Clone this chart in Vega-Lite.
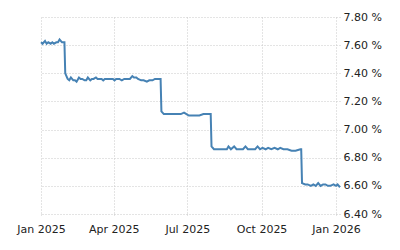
{
  "$schema": "https://vega.github.io/schema/vega-lite/v6.json",
  "width": 299,
  "height": 197,
  "autosize": "none",
  "padding": {"left": 41, "top": 17, "right": 60, "bottom": 36},
  "background": "white",
  "config": {"view": {"stroke": null}},
  "data": {"values": [
    {"date": "2025-01-01", "rate": 7.62},
    {"date": "2025-01-03", "rate": 7.61},
    {"date": "2025-01-06", "rate": 7.63},
    {"date": "2025-01-08", "rate": 7.61},
    {"date": "2025-01-10", "rate": 7.62},
    {"date": "2025-01-13", "rate": 7.61},
    {"date": "2025-01-15", "rate": 7.62},
    {"date": "2025-01-17", "rate": 7.61},
    {"date": "2025-01-20", "rate": 7.62},
    {"date": "2025-01-22", "rate": 7.62},
    {"date": "2025-01-24", "rate": 7.64},
    {"date": "2025-01-27", "rate": 7.62},
    {"date": "2025-01-30", "rate": 7.62},
    {"date": "2025-01-31", "rate": 7.40},
    {"date": "2025-02-03", "rate": 7.36},
    {"date": "2025-02-05", "rate": 7.35},
    {"date": "2025-02-07", "rate": 7.37},
    {"date": "2025-02-10", "rate": 7.35},
    {"date": "2025-02-12", "rate": 7.35},
    {"date": "2025-02-14", "rate": 7.34},
    {"date": "2025-02-17", "rate": 7.37},
    {"date": "2025-02-19", "rate": 7.36},
    {"date": "2025-02-21", "rate": 7.36},
    {"date": "2025-02-24", "rate": 7.35},
    {"date": "2025-02-26", "rate": 7.35},
    {"date": "2025-02-28", "rate": 7.37},
    {"date": "2025-03-03", "rate": 7.35},
    {"date": "2025-03-05", "rate": 7.36},
    {"date": "2025-03-07", "rate": 7.36},
    {"date": "2025-03-10", "rate": 7.37},
    {"date": "2025-03-12", "rate": 7.36},
    {"date": "2025-03-14", "rate": 7.36},
    {"date": "2025-03-17", "rate": 7.36},
    {"date": "2025-03-19", "rate": 7.35},
    {"date": "2025-03-21", "rate": 7.36},
    {"date": "2025-03-24", "rate": 7.36},
    {"date": "2025-03-27", "rate": 7.36},
    {"date": "2025-03-31", "rate": 7.36},
    {"date": "2025-04-02", "rate": 7.35},
    {"date": "2025-04-04", "rate": 7.36},
    {"date": "2025-04-08", "rate": 7.36},
    {"date": "2025-04-11", "rate": 7.35},
    {"date": "2025-04-14", "rate": 7.36},
    {"date": "2025-04-17", "rate": 7.36},
    {"date": "2025-04-21", "rate": 7.36},
    {"date": "2025-04-24", "rate": 7.38},
    {"date": "2025-04-26", "rate": 7.37},
    {"date": "2025-04-29", "rate": 7.37},
    {"date": "2025-05-01", "rate": 7.36},
    {"date": "2025-05-05", "rate": 7.35},
    {"date": "2025-05-08", "rate": 7.35},
    {"date": "2025-05-12", "rate": 7.34},
    {"date": "2025-05-15", "rate": 7.35},
    {"date": "2025-05-19", "rate": 7.35},
    {"date": "2025-05-22", "rate": 7.36},
    {"date": "2025-05-26", "rate": 7.36},
    {"date": "2025-05-29", "rate": 7.36},
    {"date": "2025-05-30", "rate": 7.13},
    {"date": "2025-06-02", "rate": 7.11},
    {"date": "2025-06-05", "rate": 7.11},
    {"date": "2025-06-09", "rate": 7.11},
    {"date": "2025-06-12", "rate": 7.11},
    {"date": "2025-06-16", "rate": 7.11},
    {"date": "2025-06-19", "rate": 7.11},
    {"date": "2025-06-23", "rate": 7.11},
    {"date": "2025-06-27", "rate": 7.12},
    {"date": "2025-06-30", "rate": 7.11},
    {"date": "2025-07-03", "rate": 7.10},
    {"date": "2025-07-08", "rate": 7.10},
    {"date": "2025-07-12", "rate": 7.10},
    {"date": "2025-07-16", "rate": 7.10},
    {"date": "2025-07-21", "rate": 7.11},
    {"date": "2025-07-25", "rate": 7.11},
    {"date": "2025-07-30", "rate": 7.11},
    {"date": "2025-07-31", "rate": 6.88},
    {"date": "2025-08-03", "rate": 6.86},
    {"date": "2025-08-07", "rate": 6.86},
    {"date": "2025-08-11", "rate": 6.86},
    {"date": "2025-08-15", "rate": 6.86},
    {"date": "2025-08-19", "rate": 6.86},
    {"date": "2025-08-21", "rate": 6.88},
    {"date": "2025-08-24", "rate": 6.86},
    {"date": "2025-08-28", "rate": 6.88},
    {"date": "2025-08-31", "rate": 6.86},
    {"date": "2025-09-04", "rate": 6.86},
    {"date": "2025-09-08", "rate": 6.86},
    {"date": "2025-09-11", "rate": 6.88},
    {"date": "2025-09-14", "rate": 6.86},
    {"date": "2025-09-18", "rate": 6.86},
    {"date": "2025-09-23", "rate": 6.86},
    {"date": "2025-09-26", "rate": 6.88},
    {"date": "2025-09-29", "rate": 6.86},
    {"date": "2025-10-02", "rate": 6.87},
    {"date": "2025-10-06", "rate": 6.86},
    {"date": "2025-10-09", "rate": 6.87},
    {"date": "2025-10-13", "rate": 6.86},
    {"date": "2025-10-17", "rate": 6.87},
    {"date": "2025-10-21", "rate": 6.86},
    {"date": "2025-10-24", "rate": 6.87},
    {"date": "2025-10-28", "rate": 6.86},
    {"date": "2025-11-02", "rate": 6.86},
    {"date": "2025-11-07", "rate": 6.85},
    {"date": "2025-11-12", "rate": 6.85},
    {"date": "2025-11-18", "rate": 6.86},
    {"date": "2025-11-19", "rate": 6.86},
    {"date": "2025-11-20", "rate": 6.62},
    {"date": "2025-11-24", "rate": 6.61},
    {"date": "2025-11-27", "rate": 6.61},
    {"date": "2025-12-01", "rate": 6.60},
    {"date": "2025-12-04", "rate": 6.61},
    {"date": "2025-12-07", "rate": 6.60},
    {"date": "2025-12-10", "rate": 6.62},
    {"date": "2025-12-13", "rate": 6.60},
    {"date": "2025-12-16", "rate": 6.61},
    {"date": "2025-12-19", "rate": 6.61},
    {"date": "2025-12-22", "rate": 6.60},
    {"date": "2025-12-25", "rate": 6.60},
    {"date": "2025-12-29", "rate": 6.61},
    {"date": "2026-01-01", "rate": 6.60},
    {"date": "2026-01-03", "rate": 6.61},
    {"date": "2026-01-06", "rate": 6.59}
  ]},
  "mark": {"type": "line", "color": "#4682B4", "strokeWidth": 2, "interpolate": "linear"},
  "encoding": {
    "x": {
      "field": "date", "type": "temporal",
      "scale": {"domain": ["2025-01-01", "2026-01-06"]},
      "axis": {
        "title": null,
        "values": ["2025-01-01", "2025-04-01", "2025-07-01", "2025-10-01", "2026-01-01"],
        "format": "%b %Y",
        "domain": false,
        "grid": true, "gridColor": "#c8c8c8", "gridDash": [1, 2], "gridWidth": 1,
        "ticks": true, "tickColor": "#c8c8c8", "tickDash": [1, 2], "tickSize": 3,
        "labelFont": "DejaVu Sans", "labelFontSize": 11, "labelColor": "#222",
        "labelPadding": 6, "labelFlush": false
      }
    },
    "y": {
      "field": "rate", "type": "quantitative",
      "scale": {"domain": [6.4, 7.8], "nice": false, "zero": false},
      "axis": {
        "title": null, "orient": "right",
        "values": [6.4, 6.6, 6.8, 7.0, 7.2, 7.4, 7.6, 7.8],
        "labelExpr": "format(datum.value, '.2f') + ' %'",
        "domain": false, "ticks": false,
        "grid": true, "gridColor": "#c8c8c8", "gridDash": [1, 2], "gridWidth": 1,
        "labelFont": "DejaVu Sans", "labelFontSize": 11, "labelColor": "#222",
        "labelPadding": 3
      }
    }
  }
}
